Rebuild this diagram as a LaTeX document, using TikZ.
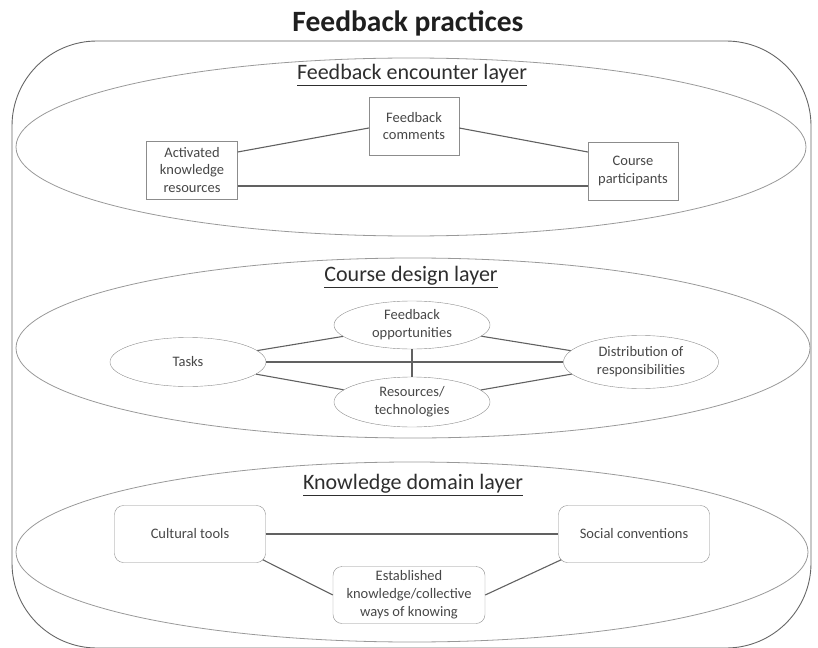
\documentclass[tikz,border=0pt]{standalone}
\usepackage{fontspec}
\setmainfont{Carlito}
\usetikzlibrary{shapes.geometric}

\begin{document}
\begin{tikzpicture}[x=1pt,y=-1pt]
        \tikzstyle{every node}=[font=\fontsize{14.5}{17.8}\selectfont,text=black!72,align=center,inner sep=1pt]
        \tikzstyle{sq}=[draw=black!45,minimum width=90pt,minimum height=58pt]
        \tikzstyle{rsq}=[draw=black!45,rounded corners=9pt,minimum width=151pt,minimum height=57pt]
        \tikzstyle{ov}=[draw=black!45,ellipse,minimum width=156pt,minimum height=48pt,inner sep=0pt]
        \tikzstyle{layer}=[draw=black!40,line width=0.8pt]
        \tikzstyle{link}=[draw=black!62,line width=1.1pt]
        \tikzstyle{heading}=[font=\fontsize{22}{26}\selectfont,text=black!82]
        \useasboundingbox (0,0) rectangle (818,647);
        % outer frame and the three layers
        \draw[black!60,line width=0.9pt,rounded corners=85pt] (12,41) rectangle (811,648);
        \node[font=\bfseries\fontsize{29.5}{33}\selectfont,text=black!88] (title) at (408,23) {Feedback practices};
        \draw[layer] (411,147) ellipse [x radius=395pt,y radius=89pt];
        \draw[layer] (413,348) ellipse [x radius=397pt,y radius=90pt];
        \draw[layer] (412,552) ellipse [x radius=396pt,y radius=90pt];
        \node[heading] (enc) at (412,75) {\underline{Feedback encounter layer}};
        \node[heading] (des) at (411,277) {\underline{Course design layer}};
        \node[heading] (dom) at (413,485) {\underline{Knowledge domain layer}};
        % feedback encounter layer
        \node[sq] (fbc) at (414,126) {Feedback\\comments};
        \node[sq,minimum width=91pt] (akr) at (192,170) {Activated\\knowledge\\resources};
        \node[sq] (cp) at (633,171) {Course\\participants};
        \draw[link] ([yshift=18pt]akr.east) -- ([yshift=-2pt]fbc.west);
        \draw[link] ([yshift=-2pt]fbc.east) -- ([yshift=19pt]cp.west);
        \draw[link] ([yshift=-16pt]akr.east) -- ([yshift=-15pt]cp.west);
        % course design layer
        \node[ov] (fbo) at (412,325) {Feedback\\opportunities};
        \node[ov,minimum height=49pt] (tasks) at (188,362) {Tasks};
        \node[ov,minimum width=155pt,minimum height=53pt] (dist) at (641,362) {Distribution of\\responsibilities};
        \node[ov,minimum height=50pt] (res) at (412,402) {Resources/\\technologies};
        \draw[link] (tasks) -- (fbo);
        \draw[link] (tasks) -- (res);
        \draw[link] (tasks) -- (dist);
        \draw[link] (fbo) -- (res);
        \draw[link] (fbo) -- (dist);
        \draw[link] (res) -- (dist);
        % knowledge domain layer
        \node[rsq] (ct) at (190,534) {Cultural tools};
        \node[rsq] (sc) at (634,534) {Social conventions};
        \node[rsq,minimum width=152pt] (ekn) at (409,595) {Established\\knowledge/collective\\ways of knowing};
        \draw[link] (ct) -- (sc);
        \draw[link] ([xshift=-3pt,yshift=3pt]ct.south east) -- (ekn.west);
        \draw[link] (ekn.east) -- ([xshift=3pt,yshift=3pt]sc.south west);
    \end{tikzpicture}
\end{document}
